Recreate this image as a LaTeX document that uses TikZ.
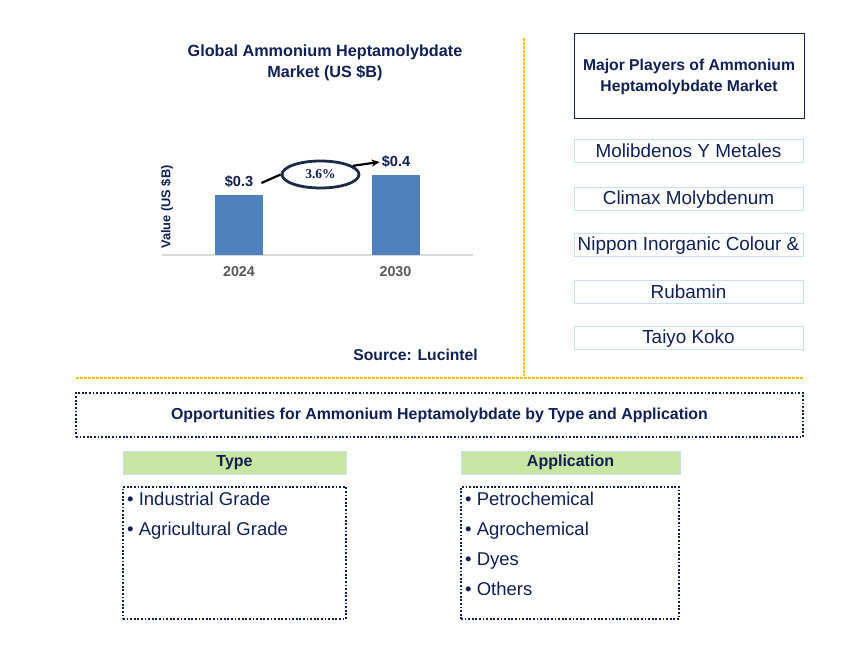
\documentclass[tikz,border=0pt]{standalone}
\usepackage{fontspec}
\setmainfont{Liberation Sans}
\newfontfamily\serifnum{Liberation Serif}
\usetikzlibrary{arrows.meta,shapes.geometric}
\definecolor{navy}{RGB}{16,32,84}
\definecolor{slatenavy}{RGB}{28,42,70}
\definecolor{orangeline}{RGB}{255,192,0}
\definecolor{barblue}{RGB}{79,129,189}
\definecolor{lightgreen}{RGB}{201,229,162}
\definecolor{lightblue}{RGB}{197,226,242}
\definecolor{axisgray}{RGB}{217,217,217}
\definecolor{labelgray}{RGB}{89,89,89}
\tikzset{
  titletext/.style={text=navy, font=\fontsize{16.2}{20}\selectfont\bfseries, align=center, inner sep=0},
  bar/.style={fill=barblue, draw=none, minimum width=48, inner sep=0, anchor=south},
  valtext/.style={text=navy, font=\fontsize{14.6}{17}\selectfont\bfseries, inner sep=0},
  yeartext/.style={text=labelgray, font=\fontsize{14.3}{17}\selectfont\bfseries, inner sep=0},
  sepline/.style={draw=orangeline, line width=1.4pt, dash pattern=on 3pt off 1pt},
  playerbox/.style={draw=lightblue, line width=1pt, minimum width=229, minimum height=23, inner sep=0,
     text=navy, font=\fontsize{18.9}{22}\selectfont},
  dotbox/.style={draw=navy, line width=1.3pt, dash pattern=on 1.8pt off 1.8pt, inner sep=0},
  greenhead/.style={fill=lightgreen, draw=lightblue, line width=1pt, minimum height=23, inner sep=0,
     text=navy, font=\fontsize{16}{19}\selectfont\bfseries},
  itemtext/.style={text=navy, font=\fontsize{18.5}{21}\selectfont, inner sep=0, anchor=base west},
  growarrow/.style={draw=black, line width=2.2pt, -{Stealth[length=8pt,width=7pt]}},
}
\begin{document}
\begin{tikzpicture}[x=1pt,y=-1pt]
\useasboundingbox (0,0) rectangle (868,660);
\fill[white] (0,0) rectangle (868,660);

% chart title
\node[titletext] (title) at (325,62.5) {Global Ammonium Heptamolybdate\\[1pt]Market (US \$B)};

% axis and bars
\coordinate (axl) at (162,255);
\coordinate (axr) at (473,255);
\draw[draw=axisgray, line width=1.2pt] (axl) -- (axr);
\node[bar, minimum height=60] (bar1) at (239,255) {};
\node[bar, minimum height=80] (bar2) at (395.5,255) {};
\node[yeartext] (y1) at (239,272) {2024};
\node[yeartext] (y2) at (395.5,272) {2030};
\node[valtext] (v1) at (239,182) {\$0.3};
\node[valtext] (v2) at (396,162) {\$0.4};
\node[text=navy, font=\fontsize{12.8}{16}\selectfont\bfseries, rotate=90, inner sep=0] (ylab) at (167,207) {Value (US \$B)};

% CAGR ellipse
\node[ellipse, draw=slatenavy, line width=2.8pt, minimum width=77, minimum height=27, inner sep=0,
      text=navy, font=\serifnum\fontsize{13.5}{16}\selectfont\bfseries] (cagr) at (320.5,174.5) {3.6\%};
\draw[line width=2.2pt] ([xshift=8pt,yshift=-1pt]v1.east) -- (cagr.west);
\draw[growarrow] (cagr.15) -- ([xshift=-2pt]v2.west);

\node[text=navy, font=\fontsize{15.7}{19}\selectfont\bfseries, inner sep=0, anchor=east] (src) at (478,355) {Source: Lucintel};

% separators
\coordinate (vt) at (524,38);
\coordinate (vb) at (524,376);
\coordinate (hl) at (76,378);
\coordinate (hr) at (803,378);
\draw[sepline] (vt) -- (vb);
\draw[sepline] (hl) -- (hr);

% major players
\node[draw=navy, line width=1pt, minimum width=230, minimum height=85, inner sep=0, align=center,
      text=navy, font=\fontsize{15.7}{21}\selectfont\bfseries] (mp) at (689,76.5) {Major Players of Ammonium\\Heptamolybdate Market};
\node[playerbox] (p1) at (688.5,151) {Molibdenos Y Metales};
\node[playerbox] (p2) at (688.5,199.5) {Climax Molybdenum};
\node[playerbox] (p3) at (688.5,245.5) {Nippon Inorganic Colour \&};
\node[playerbox] (p4) at (688.5,292) {Rubamin};
\node[playerbox] (p5) at (688.5,338.5) {Taiyo Koko};

% opportunities
\node[dotbox, minimum width=727, minimum height=44, text=navy, font=\fontsize{15.9}{19}\selectfont\bfseries] (opp) at (439.5,415) {Opportunities for Ammonium Heptamolybdate by Type and Application};

\node[greenhead, minimum width=223] (th) at (234.5,462.5) {Type};
\node[greenhead, minimum width=219] (ah) at (570.5,462.5) {Application};

\node[dotbox, minimum width=223, minimum height=132] (tl) at (234.5,553) {};
\node[dotbox, minimum width=218, minimum height=132] (al) at (570,553) {};

\node[itemtext] (t1) at (127,505.5) {• Industrial Grade};
\node[itemtext] (t2) at (127,535.5) {• Agricultural Grade};
\node[itemtext] (a1) at (465,505.5) {• Petrochemical};
\node[itemtext] (a2) at (465,535.5) {• Agrochemical};
\node[itemtext] (a3) at (465,565.5) {• Dyes};
\node[itemtext] (a4) at (465,595.5) {• Others};
\end{tikzpicture}
\end{document}
